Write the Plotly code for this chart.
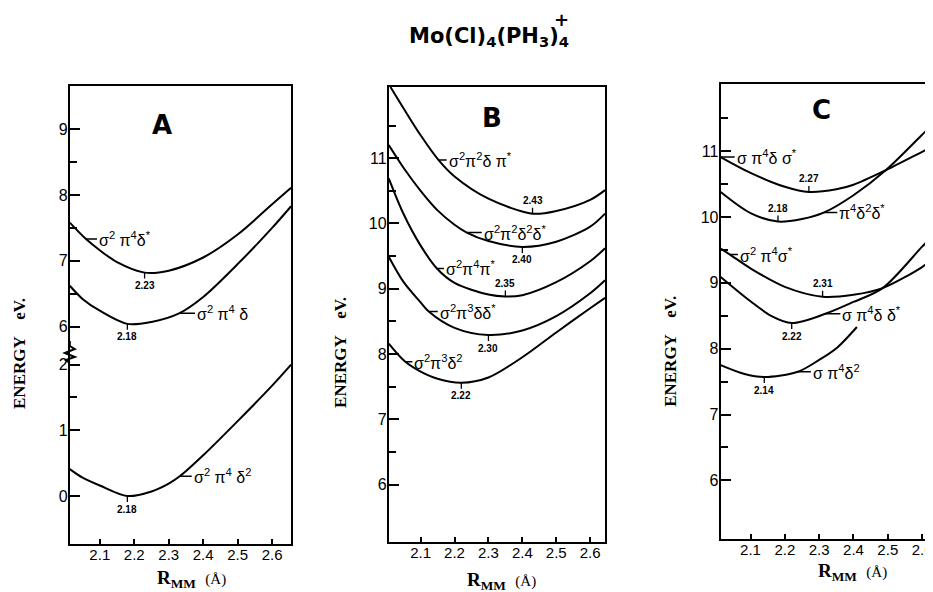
import plotly.graph_objects as go

# ---------------- data ----------------
# Panel A  (broken energy axis: lower block 0..2 eV, upper block 6..9 eV)
A_R_GROUND = [2.013, 2.05, 2.1, 2.18, 2.25, 2.3, 2.332, 2.4, 2.5, 2.6, 2.655]
A_E_GROUND = [0.41, 0.28, 0.16, 0.0, 0.07, 0.19, 0.30, 0.62, 1.14, 1.68, 2.0]
A_R_MID = [2.013, 2.05, 2.1, 2.18, 2.25, 2.33, 2.4, 2.5, 2.6, 2.655]
A_E_MID = [6.62, 6.42, 6.24, 6.04, 6.07, 6.2, 6.45, 6.95, 7.5, 7.83]
A_R_UP = [2.013, 2.06, 2.1, 2.15, 2.23, 2.3, 2.4, 2.5, 2.6, 2.655]
A_E_UP = [7.58, 7.33, 7.16, 6.98, 6.82, 6.85, 7.05, 7.4, 7.86, 8.11]
A_UPPER_SHIFT = 3.42          # eV removed from the upper block by the axis break
A_LOWER_TICKS = [0, 1, 2]
A_UPPER_TICKS = [6, 7, 8, 9]
A_LOWER_MINOR = [1.5]
A_UPPER_MINOR = [6.5, 7.5, 8.5]

# Panel B
B_R1 = [2.011, 2.05, 2.1, 2.153, 2.2, 2.3, 2.43, 2.5, 2.6, 2.644]
B_E1 = [12.09, 11.76, 11.35, 10.97, 10.72, 10.38, 10.15, 10.19, 10.36, 10.51]
B_R2 = [2.006, 2.05, 2.1, 2.15, 2.2, 2.236, 2.3, 2.4, 2.5, 2.6, 2.644]
B_E2 = [11.2, 10.85, 10.5, 10.2, 9.98, 9.86, 9.73, 9.64, 9.72, 9.95, 10.15]
B_R3 = [2.006, 2.05, 2.1, 2.148, 2.2, 2.3, 2.35, 2.4, 2.5, 2.6, 2.644]
B_E3 = [10.69, 10.14, 9.66, 9.31, 9.09, 8.91, 8.88, 8.9, 9.1, 9.42, 9.62]
B_R4 = [2.006, 2.05, 2.1, 2.124, 2.2, 2.3, 2.4, 2.5, 2.6, 2.644]
B_E4 = [9.49, 9.1, 8.79, 8.65, 8.4, 8.29, 8.36, 8.58, 8.93, 9.13]
B_R5 = [2.006, 2.055, 2.1, 2.15, 2.22, 2.3, 2.4, 2.5, 2.6, 2.644]
B_E5 = [8.16, 7.88, 7.73, 7.62, 7.56, 7.64, 7.95, 8.33, 8.7, 8.86]

# Panel C
C_R1 = [2.013, 2.1, 2.2, 2.27, 2.35, 2.4, 2.494, 2.6, 2.623]
C_E1 = [10.91, 10.67, 10.46, 10.38, 10.42, 10.49, 10.71, 10.99, 11.05]
C_R2 = [2.013, 2.1, 2.18, 2.25, 2.315, 2.4, 2.494, 2.6, 2.623]
C_E2 = [10.38, 10.06, 9.93, 9.97, 10.07, 10.33, 10.71, 11.25, 11.37]
C_R3 = [2.013, 2.04, 2.1, 2.2, 2.31, 2.4, 2.485, 2.6, 2.623]
C_E3 = [9.52, 9.43, 9.22, 8.94, 8.79, 8.82, 8.92, 9.24, 9.33]
C_R4 = [2.013, 2.1, 2.16, 2.22, 2.318, 2.4, 2.485, 2.6, 2.623]
C_E4 = [9.09, 8.72, 8.5, 8.39, 8.53, 8.71, 8.92, 9.55, 9.67]
C_R5 = [2.013, 2.08, 2.14, 2.238, 2.3, 2.353, 2.41]
C_E5 = [7.75, 7.62, 7.57, 7.65, 7.83, 8.02, 8.33]

X_TICKS = [2.1, 2.2, 2.3, 2.4, 2.5, 2.6]
X_TICK_TEXT = ["2.1", "2.2", "2.3", "2.4", "2.5", "2.6"]
B_Y_TICKS = [6, 7, 8, 9, 10, 11]
C_Y_TICKS = [6, 7, 8, 9, 10, 11]
BC_MINOR = [6.5, 7.5, 8.5, 9.5, 10.5, 11.5]

# state labels: (text, r, E, leader length px)
A_LABELS = [("σ<sup>2</sup> π<sup>4</sup>δ<sup>*</sup>", 2.06, 7.33, 11, True),
            ("σ<sup>2</sup> π<sup>4</sup> δ", 2.33, 6.2, 16, True),
            ("σ<sup>2</sup> π<sup>4</sup> δ<sup>2</sup>", 2.332, 0.30, 12, False)]
B_LABELS = [("σ<sup>2</sup>π<sup>2</sup>δ π<sup>*</sup>", 2.153, 10.97, 8),
            ("σ<sup>2</sup>π<sup>2</sup>δ<sup>2</sup>δ<sup>*</sup>", 2.236, 9.86, 15),
            ("σ<sup>2</sup>π<sup>4</sup>π<sup>*</sup>", 2.148, 9.31, 7),
            ("σ<sup>2</sup>π<sup>3</sup>δδ<sup>*</sup>", 2.124, 8.65, 9),
            ("σ<sup>2</sup>π<sup>3</sup>δ<sup>2</sup>", 2.055, 7.88, 7)]
C_LABELS = [("σ π<sup>4</sup>δ σ<sup>*</sup>", 2.013, 10.91, 14),
            ("π<sup>4</sup>δ<sup>2</sup>δ<sup>*</sup>", 2.315, 10.07, 13),
            ("σ<sup>2</sup> π<sup>4</sup>σ<sup>*</sup>", 2.04, 9.43, 8),
            ("σ π<sup>4</sup>δ δ<sup>*</sup>", 2.318, 8.53, 15),
            ("σ π<sup>4</sup>δ<sup>2</sup>", 2.238, 7.65, 13)]

# minima: (r, E, label above?)
A_MINIMA = [(2.23, 6.82, False, True), (2.18, 6.04, False, True), (2.18, 0.0, False, False)]
B_MINIMA = [(2.43, 10.15, True), (2.40, 9.64, False), (2.35, 8.88, True),
            (2.30, 8.29, False), (2.22, 7.56, False)]
C_MINIMA = [(2.27, 10.38, True), (2.18, 9.93, True), (2.31, 8.79, True),
            (2.22, 8.39, False), (2.14, 7.57, False)]

# page has an 8 px body margin: the figure fills the rest of the 933x592 window
OFF = 8
W, H = 933 - OFF, 592 - OFF
SANS = "Liberation Sans"
SERIF = "Liberation Serif"


def px(xp):
    return (xp - OFF) / W


def py(yp):
    return 1 - (yp - OFF) / H


fig = go.Figure()


def curve(xs, ys, xa, ya):
    fig.add_trace(go.Scatter(x=xs, y=ys, mode="lines", xaxis=xa, yaxis=ya,
                             line=dict(color="black", width=2, shape="spline", smoothing=0.9),
                             hoverinfo="skip", showlegend=False))


# panel A
curve(A_R_GROUND, A_E_GROUND, "x", "y")
curve(A_R_MID, [e - A_UPPER_SHIFT for e in A_E_MID], "x", "y")
curve(A_R_UP, [e - A_UPPER_SHIFT for e in A_E_UP], "x", "y")
# panel B
for r, e in [(B_R1, B_E1), (B_R2, B_E2), (B_R3, B_E3), (B_R4, B_E4), (B_R5, B_E5)]:
    curve(r, e, "x2", "y2")
# panel C
for r, e in [(C_R1, C_E1), (C_R2, C_E2), (C_R3, C_E3), (C_R4, C_E4), (C_R5, C_E5)]:
    curve(r, e, "x3", "y3")

xstyle = dict(showline=True, linecolor="black", linewidth=2, mirror=True,
              ticks="inside", ticklen=5, tickwidth=2, tickcolor="black",
              tickvals=X_TICKS, ticktext=X_TICK_TEXT, showgrid=False, zeroline=False,
              ticklabelstandoff=-4, ticklabeloverflow="allow",
              tickfont=dict(family=SANS, size=15, color="black"), fixedrange=True)
ystyle = dict(showline=True, linecolor="black", linewidth=2, mirror=True,
              ticks="inside", ticklen=10, tickwidth=2, tickcolor="black",
              showgrid=False, zeroline=False, ticklabelstandoff=-3,
              tickfont=dict(family=SANS, size=16, color="black"), fixedrange=True)

a_tickvals = A_LOWER_TICKS + [t - A_UPPER_SHIFT for t in A_UPPER_TICKS]
a_ticktext = [str(t) for t in A_LOWER_TICKS + A_UPPER_TICKS]
a_minor = A_LOWER_MINOR + [t - A_UPPER_SHIFT for t in A_UPPER_MINOR]
minor_style = dict(ticks="inside", ticklen=7, tickwidth=2, tickcolor="black")

fig.update_layout(
    width=W, height=H, margin=dict(l=0, r=0, t=0, b=0),
    paper_bgcolor="white", plot_bgcolor="white", showlegend=False,
    xaxis=dict(domain=[px(70), px(292)], range=[2.013, 2.655], anchor="y", **xstyle),
    yaxis=dict(domain=[py(544), py(86)], range=[-0.73, 6.24], anchor="x",
               tickvals=a_tickvals, ticktext=a_ticktext,
               minor=dict(tickvals=a_minor, **minor_style), **ystyle),
    xaxis2=dict(domain=[px(390), px(607)], range=[2.006, 2.644], anchor="y2", **xstyle),
    yaxis2=dict(domain=[py(542), py(87)], range=[5.12, 12.09], anchor="x2",
                tickvals=B_Y_TICKS, ticktext=[str(t) for t in B_Y_TICKS],
                minor=dict(tickvals=BC_MINOR, **minor_style), **ystyle),
    xaxis3=dict(domain=[px(723), 1.0], range=[2.013, 2.623], anchor="y3", **xstyle),
    yaxis3=dict(domain=[py(539), py(84)], range=[5.11, 12.02], anchor="x3",
                tickvals=C_Y_TICKS, ticktext=[str(t) for t in C_Y_TICKS],
                minor=dict(tickvals=BC_MINOR, **minor_style),
                **{**ystyle, "mirror": False}),
)

ann = []
lab_font = dict(family=SANS, size=16, color="black")
min_font = dict(family=SANS, size=10, color="black")


def state_label(text, r, e, lead, xa, ya):
    ann.append(dict(x=r, y=e, xref=xa, yref=ya, text=text, showarrow=True, arrowhead=0,
                    arrowwidth=1.5, arrowcolor="black", ax=lead, ay=0, xanchor="left",
                    yanchor="middle", standoff=0, font=lab_font))


def min_label(r, e, above, xa, ya):
    ann.append(dict(x=r, y=e, xref=xa, yref=ya, text="<b>%.2f</b>" % r, showarrow=True,
                    arrowhead=0, arrowwidth=1.3, arrowcolor="black", ax=0,
                    ay=-13 if above else 13, standoff=0, font=min_font))


def paper_text(text, xx, yy, font, **kw):
    d = dict(x=px(xx), y=py(yy), xref="paper", yref="paper", text=text, showarrow=False,
             xanchor="center", yanchor="middle", font=font)
    d.update(kw)
    ann.append(d)


for text, r, e, lead, upper in A_LABELS:
    state_label(text, r, e - A_UPPER_SHIFT if upper else e, lead, "x", "y")
for text, r, e, lead in B_LABELS:
    state_label(text, r, e, lead, "x2", "y2")
for text, r, e, lead in C_LABELS:
    state_label(text, r, e, lead, "x3", "y3")
for r, e, above, upper in A_MINIMA:
    min_label(r, e - A_UPPER_SHIFT if upper else e, above, "x", "y")
for r, e, above in B_MINIMA:
    min_label(r, e, above, "x2", "y2")
for r, e, above in C_MINIMA:
    min_label(r, e, above, "x3", "y3")

# panel letters
for letter, xx, yy in [("A", 162, 125), ("B", 494, 118), ("C", 824, 110)]:
    paper_text("<b>%s</b>" % letter, xx, yy,
               dict(family="DejaVu Sans", size=26, color="black"))

# axis titles
for xx, yy in [(19, 353), (341, 352), (672, 351)]:
    paper_text("<b>ENERGY    eV.</b>", xx, yy,
               dict(family=SERIF, size=17, color="black"), textangle=-90)
for xx, yy in [(192, 579), (503, 581), (855, 572)]:
    paper_text("<b>R<sub>MM</sub></b>  <span style='font-size:15px'>(Å)</span>", xx, yy,
               dict(family=SERIF, size=19, color="black"))

# title
paper_text("<b>Mo(Cl)<sub>4</sub>(PH<sub>3</sub>)<sub>4</sub></b>", 408, 37,
           dict(family="DejaVu Sans", size=21, color="black"), xanchor="left")
paper_text("<b>+</b>", 563, 19, dict(family="DejaVu Sans", size=18, color="black"))

fig.update_layout(annotations=ann)

# axis break mark on panel A
zig = [(70, 341), (70, 346), (75, 349), (65, 353), (75, 357), (66, 360), (70, 363)]
path = "M " + " L ".join("%.5f,%.5f" % (px(a), py(b)) for a, b in zig)
fig.add_shape(type="path", path=path, xref="paper", yref="paper",
              line=dict(color="black", width=2))

fig.write_html("out.html")
